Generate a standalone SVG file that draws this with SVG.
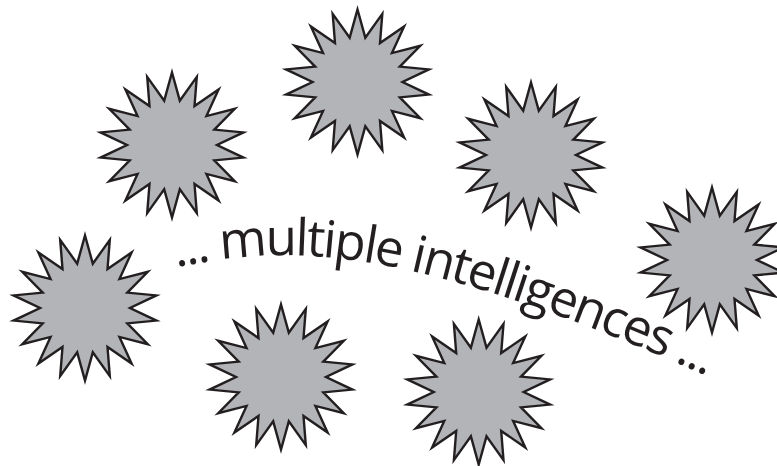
<svg xmlns="http://www.w3.org/2000/svg" xmlns:xlink="http://www.w3.org/1999/xlink" width="777" height="466" viewBox="0 0 777 466">
<style>
.burst{fill:#b2b4b7;stroke:#231f20;stroke-width:2.4;stroke-linejoin:miter;stroke-miterlimit:12}
.lbl{font-family:"Open Sans","Liberation Sans",sans-serif;font-size:51px;fill:#231f20}
</style>
<defs>
<path id="star" d="M0,-72.5 L7.81,-44.32 L24.8,-68.13 L22.5,-38.97 L46.6,-55.54 L34.47,-28.93 L62.79,-36.25 L42.29,-15.39 L71.4,-12.59 L45,0 L71.4,12.59 L42.29,15.39 L62.79,36.25 L34.47,28.93 L46.6,55.54 L22.5,38.97 L24.8,68.13 L7.81,44.32 L0,72.5 L-7.81,44.32 L-24.8,68.13 L-22.5,38.97 L-46.6,55.54 L-34.47,28.93 L-62.79,36.25 L-42.29,15.39 L-71.4,12.59 L-45,0 L-71.4,-12.59 L-42.29,-15.39 L-62.79,-36.25 L-34.47,-28.93 L-46.6,-55.54 L-22.5,-38.97 L-24.8,-68.13 L-7.81,-44.32 Z"/>
<path id="curve" d="M176,267 C285,246 395,238 712,378"/>
</defs>
<g id="star1"><use xlink:href="#star" href="#star" class="burst" transform="translate(172,145)"/></g>
<g id="star2"><use xlink:href="#star" href="#star" class="burst" transform="translate(357.5,82)"/></g>
<g id="star3"><use xlink:href="#star" href="#star" class="burst" transform="translate(531,155)"/></g>
<g id="star4"><use xlink:href="#star" href="#star" class="burst" transform="translate(712,260)"/></g>
<g id="star5"><use xlink:href="#star" href="#star" class="burst" transform="translate(85,308)"/></g>
<g id="star6"><use xlink:href="#star" href="#star" class="burst" transform="translate(281,377)"/></g>
<g id="star7"><use xlink:href="#star" href="#star" class="burst" transform="translate(478.7,392)"/></g>
<g id="connectors"></g>
<g id="label">
<text class="lbl"><textPath xlink:href="#curve" href="#curve" textLength="552" lengthAdjust="spacing">... multiple intelligences ...</textPath></text>
</g>
</svg>
